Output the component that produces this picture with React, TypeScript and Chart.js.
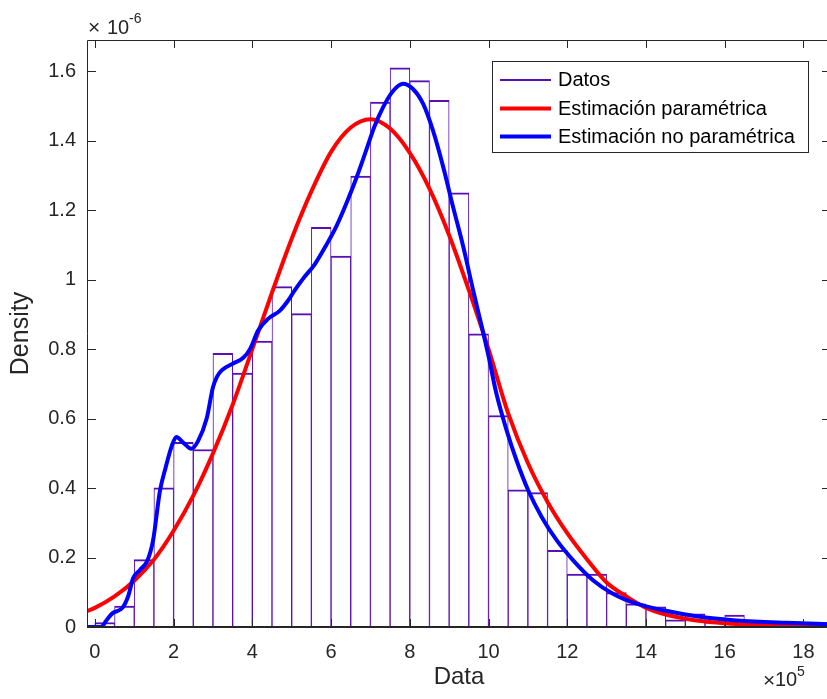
import React, { useEffect, useRef } from 'react';
import { Chart, registerables } from 'chart.js';

Chart.register(...registerables);

// ---------- data (x in units of 1e5, density in units of 1e-6) ----------
const binCenters = [
  0.25, 0.75, 1.25, 1.75, 2.25, 2.75, 3.25, 3.75, 4.25, 4.75,
  5.25, 5.75, 6.25, 6.75, 7.25, 7.75, 8.25, 8.75, 9.25, 9.75,
  10.25, 10.75, 11.25, 11.75, 12.25, 12.75, 13.25, 13.75, 14.25, 14.75,
  15.25, 15.75, 16.25, 16.75, 17.25, 17.75, 18.25,
];
const binDensity = [
  0.013, 0.06, 0.194, 0.401, 0.532, 0.511, 0.788, 0.731, 0.823, 0.98,
  0.902, 1.151, 1.068, 1.298, 1.511, 1.61, 1.573, 1.516, 1.25, 0.844,
  0.609, 0.395, 0.387, 0.221, 0.152, 0.152, 0.099, 0.067, 0.058, 0.021,
  0.038, 0.015, 0.034, 0.008, 0.004, 0.004, 0.013,
];

const paramX = [
  -0.2, 0, 0.5, 1, 1.5, 2, 2.5, 3, 3.5, 4, 4.5, 5, 5.5, 6, 6.5, 7, 7.5, 8, 8.5, 9,
  9.5, 10, 10.5, 11, 11.5, 12, 12.5, 13, 13.5, 14, 14.5, 15, 15.5, 16, 16.5, 17,
  17.5, 18, 18.5, 18.7,
];
const paramY = [
  0.046, 0.055, 0.088, 0.133, 0.194, 0.277, 0.378, 0.5, 0.64, 0.8, 0.963, 1.118, 1.254, 1.368, 1.438, 1.462, 1.435, 1.365, 1.262, 1.128,
  0.97, 0.8, 0.615, 0.472, 0.36, 0.27, 0.195, 0.128, 0.088, 0.055, 0.036, 0.024, 0.016, 0.011, 0.007, 0.005,
  0.003, 0.002, 0.001, 0.001,
];

const kdeX = [
  -0.2, 0.15, 0.3, 0.45, 0.7, 0.85, 0.97, 1.15, 1.33, 1.48, 1.65, 1.8, 1.95, 2.07, 2.25, 2.45, 2.62, 2.84, 3.0, 3.1,
  3.22, 3.5, 3.77, 3.94, 4.15, 4.4, 4.7, 4.91, 5.08, 5.29, 5.59, 5.88, 6.14, 6.39, 6.65, 6.9, 7.1, 7.32, 7.58, 7.83,
  8.08, 8.34, 8.59, 8.85, 9.1, 9.36, 9.61, 9.86, 10.0, 10.2, 10.46, 10.71, 11.01, 11.35, 11.73, 12.15, 12.66, 13.16, 13.76, 14.44,
  15.28, 16.3, 17.57, 18.7,
];
const kdeY = [
  0, 0, 0.02, 0.04, 0.055, 0.09, 0.14, 0.165, 0.19, 0.25, 0.39, 0.46, 0.52, 0.547, 0.53, 0.513, 0.535, 0.6, 0.69, 0.72,
  0.739, 0.758, 0.775, 0.8, 0.854, 0.887, 0.911, 0.94, 0.97, 1.003, 1.045, 1.1, 1.155, 1.22, 1.295, 1.375, 1.44, 1.496, 1.544, 1.564,
  1.549, 1.506, 1.429, 1.324, 1.209, 1.094, 0.969, 0.85, 0.78, 0.672, 0.566, 0.48, 0.393, 0.317, 0.25, 0.192, 0.134, 0.096, 0.067, 0.048,
  0.031, 0.019, 0.012, 0.008,
];

const xTickValues = [0, 2, 4, 6, 8, 10, 12, 14, 16, 18];
const xTickLabels = ['0', '2', '4', '6', '8', '10', '12', '14', '16', '18'];
const yTickValues = [0, 0.2, 0.4, 0.6, 0.8, 1, 1.2, 1.4, 1.6];
const yTickLabels = ['0', '0.2', '0.4', '0.6', '0.8', '1', '1.2', '1.4', '1.6'];

const legendLabels = ['Datos', 'Estimación paramétrica', 'Estimación no paramétrica'];
const xTitle = 'Data';
const yTitle = 'Density';

const PURPLE = '#5A0FB4';
const RED = '#FF0000';
const BLUE = '#0000FF';
const AXIS = '#262626';
const FONT = '"Liberation Sans", Arial, Helvetica, sans-serif';

const framePlugin = {
  id: 'frame',
  afterDatasetsDraw(chart: any) {
    const { ctx, chartArea: a, scales } = chart;
    const xs = scales.x;
    const ys = scales.y;
    ctx.save();
    ctx.strokeStyle = AXIS;
    ctx.lineWidth = 1;
    ctx.beginPath();
    xTickValues.forEach((v) => {
      const px = Math.round(xs.getPixelForValue(v)) + 0.5;
      ctx.moveTo(px, a.bottom);
      ctx.lineTo(px, a.bottom - 8);
      ctx.moveTo(px, a.top);
      ctx.lineTo(px, a.top + 8);
    });
    yTickValues.forEach((v) => {
      const py = Math.round(ys.getPixelForValue(v)) + 0.5;
      ctx.moveTo(a.left, py);
      ctx.lineTo(a.left + 9, py);
      ctx.moveTo(a.right, py);
      ctx.lineTo(a.right - 9, py);
    });
    ctx.stroke();
    // box
    ctx.beginPath();
    ctx.moveTo(a.left + 0.5, a.bottom);
    ctx.lineTo(a.left + 0.5, a.top + 0.5);
    ctx.lineTo(a.right - 0.5, a.top + 0.5);
    ctx.lineTo(a.right - 0.5, a.bottom);
    ctx.stroke();
    ctx.lineWidth = 2;
    ctx.beginPath();
    ctx.moveTo(a.left, a.bottom);
    ctx.lineTo(a.right, a.bottom);
    ctx.stroke();

    // exponent labels
    ctx.fillStyle = AXIS;
    ctx.textBaseline = 'alphabetic';
    ctx.textAlign = 'left';
    ctx.font = `21px ${FONT}`;
    ctx.fillText('\u00D7', a.left + 1, 34);
    ctx.font = `20px ${FONT}`;
    ctx.fillText('10', a.left + 20, 33.5);
    ctx.font = `14px ${FONT}`;
    ctx.fillText('-6', a.left + 42, 23);

    ctx.font = `21px ${FONT}`;
    ctx.fillText('\u00D7', 763, 687);
    ctx.font = `20px ${FONT}`;
    ctx.fillText('10', 775, 686);
    ctx.font = `14px ${FONT}`;
    ctx.fillText('5', 797, 676);

    // legend
    const lx = 492.5, ly = 61.5, lw = 316, lh = 91;
    ctx.fillStyle = '#ffffff';
    ctx.fillRect(lx, ly, lw, lh);
    ctx.strokeStyle = AXIS;
    ctx.lineWidth = 1;
    ctx.strokeRect(lx, ly, lw, lh);
    const rows = [80, 108.5, 136.5];
    const colors = [PURPLE, RED, BLUE];
    const widths = [2, 4, 4];
    rows.forEach((ry, i) => {
      ctx.strokeStyle = colors[i];
      ctx.lineWidth = widths[i];
      ctx.beginPath();
      ctx.moveTo(500, ry);
      ctx.lineTo(551, ry);
      ctx.stroke();
      ctx.fillStyle = '#000000';
      ctx.font = `20px ${FONT}`;
      ctx.textBaseline = 'middle';
      ctx.fillText(legendLabels[i], 558, ry + 0.5);
    });
    ctx.restore();
  },
};

export default function App() {
  const ref = useRef<HTMLCanvasElement | null>(null);

  useEffect(() => {
    if (!ref.current) return;
    const chart = new Chart(ref.current, {
      type: 'bar',
      data: {
        datasets: [
          {
            type: 'line',
            label: legendLabels[2],
            data: kdeX.map((x, i) => ({ x, y: kdeY[i] })),
            borderColor: BLUE,
            borderWidth: 4,
            pointRadius: 0,
            cubicInterpolationMode: 'monotone',
            fill: false,
            order: 0,
          } as any,
          {
            type: 'line',
            label: legendLabels[1],
            data: paramX.map((x, i) => ({ x, y: paramY[i] })),
            borderColor: RED,
            borderWidth: 4,
            pointRadius: 0,
            cubicInterpolationMode: 'monotone',
            fill: false,
            order: 1,
          } as any,
          {
            type: 'bar',
            label: legendLabels[0],
            data: binCenters.map((x, i) => ({ x, y: binDensity[i] })),
            backgroundColor: '#ffffff',
            borderColor: PURPLE,
            borderWidth: { top: 2, left: 1, right: 1, bottom: 0 },
            borderSkipped: 'start',
            barPercentage: 1,
            categoryPercentage: 1,
            order: 2,
          } as any,
        ],
      },
      options: {
        animation: false,
        responsive: false,
        layout: { padding: { top: 40, left: 0, right: 9, bottom: 0 } },
        plugins: { legend: { display: false }, tooltip: { enabled: false } },
        scales: {
          x: {
            type: 'linear',
            offset: false,
            min: -0.2,
            max: 18.7,
            grid: { display: false, drawTicks: false },
            border: { display: false },
            afterBuildTicks: (s: any) => {
              s.ticks = xTickValues.map((v) => ({ value: v }));
            },
            afterFit: (s: any) => {
              s.height = 72;
            },
            ticks: {
              autoSkip: false,
              maxRotation: 0,
              padding: 13,
              color: AXIS,
              font: { family: FONT, size: 20 },
              callback: (_v: any, i: number) => xTickLabels[i],
            },
            title: {
              display: true,
              text: xTitle,
              color: AXIS,
              font: { family: FONT, size: 24 },
              padding: { top: 0, bottom: 7 },
            },
          },
          y: {
            type: 'linear',
            min: 0,
            max: 1.69,
            grid: { display: false, drawTicks: false },
            border: { display: false },
            afterBuildTicks: (s: any) => {
              s.ticks = yTickValues.map((v) => ({ value: v }));
            },
            afterFit: (s: any) => {
              s.width = 87;
            },
            ticks: {
              padding: 11,
              color: AXIS,
              font: { family: FONT, size: 20 },
              callback: (_v: any, i: number) => yTickLabels[i],
            },
            title: {
              display: true,
              text: yTitle,
              color: AXIS,
              font: { family: FONT, size: 25 },
              padding: { top: 6.5, bottom: 0 },
            },
          },
        },
      } as any,
      plugins: [framePlugin],
    });
    return () => chart.destroy();
  }, []);

  return (
    <div
      style={{
        position: 'fixed',
        left: 0,
        top: 0,
        width: 827,
        height: 699,
        overflow: 'hidden',
        background: '#ffffff',
      }}
    >
      <canvas ref={ref} width={840} height={699} style={{ display: 'block' }} />
    </div>
  );
}
